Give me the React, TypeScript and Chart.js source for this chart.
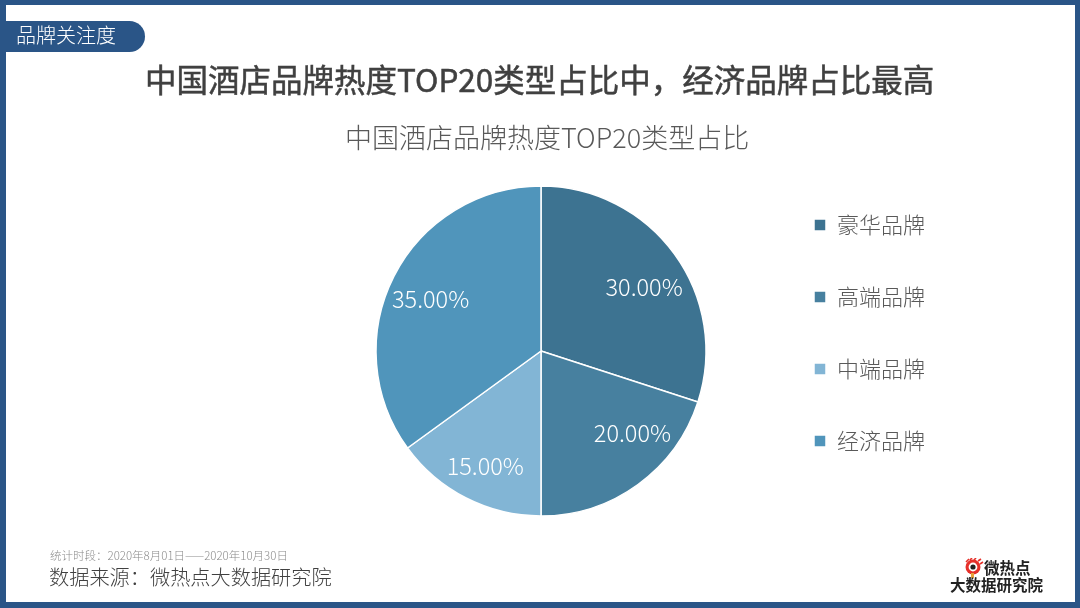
import { useEffect, useRef } from 'react';
import { Chart, registerables } from 'chart.js';

Chart.register(...registerables);

const FONT = '"Noto Sans CJK SC", "Noto Sans", sans-serif';

const categories = ['豪华品牌', '高端品牌', '中端品牌', '经济品牌'];
const shares = [30, 20, 15, 35];
const sliceColors = ['#3d7391', '#47809f', '#82b5d5', '#5095bb'];
// label shift from the slice centre
const labelOffsets = [
  [2, 10],
  [18, -19],
  [1, 4],
  [1, 5],
];

const headline = '中国酒店品牌热度TOP20类型占比中，经济品牌占比最高';
const chartTitle = '中国酒店品牌热度TOP20类型占比';
const tabText = '品牌关注度';
const period = '统计时段：2020年8月01日——2020年10月30日';
const source = '数据来源：微热点大数据研究院';

const sliceLabels = {
  id: 'sliceLabels',
  afterDatasetsDraw(chart: Chart) {
    const { ctx } = chart;
    ctx.save();
    ctx.font = `300 23.5px ${FONT}`;
    ctx.fillStyle = '#ffffff';
    ctx.textAlign = 'center';
    ctx.textBaseline = 'middle';
    chart.getDatasetMeta(0).data.forEach((arc: any, i) => {
      const mid = (arc.startAngle + arc.endAngle) / 2;
      const x = arc.x + Math.cos(mid) * 125 + labelOffsets[i][0];
      const y = arc.y + Math.sin(mid) * 125 + labelOffsets[i][1];
      ctx.fillText(`${shares[i].toFixed(2)}%`, x, y);
    });
    ctx.restore();
  },
};

function PieChart() {
  const canvasRef = useRef<HTMLCanvasElement>(null);

  useEffect(() => {
    if (!canvasRef.current) return;
    const chart = new Chart(canvasRef.current, {
      type: 'pie',
      data: {
        labels: categories,
        datasets: [
          {
            data: shares,
            backgroundColor: sliceColors,
            borderColor: '#ffffff',
            borderWidth: 1.5,
            radius: 165,
          },
        ],
      },
      options: {
        responsive: false,
        animation: false,
        events: [],
        layout: { padding: { left: 318, right: 145, top: 164, bottom: 70 } },
        plugins: {
          tooltip: { enabled: false },
          legend: {
            position: 'right',
            align: 'start',
            labels: {
              boxWidth: 12,
              boxHeight: 12,
              padding: 50,
              color: '#595959',
              font: { family: FONT, size: 22, weight: 300 },
            },
          },
        },
      },
      plugins: [sliceLabels],
    });
    return () => chart.destroy();
  }, []);

  return (
    <canvas
      ref={canvasRef}
      width={1080}
      height={608}
      style={{ position: 'absolute', left: 0, top: 0 }}
    />
  );
}

function Logo() {
  return (
    <div style={{ position: 'absolute', left: 950, top: 558, width: 96, color: '#222', fontWeight: 700 }}>
      <svg width="20" height="20" viewBox="0 0 20 20" style={{ position: 'absolute', left: 14, top: 0 }}>
        <circle cx="9" cy="9" r="7.5" fill="#e6302a" />
        <path d="M2 4 L5 1 M6 2 L8 0 M10 2 L12 0 M14 3 L17 1 M16 6 L19 4" stroke="#e6302a" strokeWidth="1.6" />
        <circle cx="9" cy="9" r="4.4" fill="#fff" />
        <circle cx="9" cy="9" r="2.6" fill="#222" />
        <rect x="7" y="15" width="3" height="5" fill="#e8a23a" />
      </svg>
      <div style={{ position: 'absolute', left: 34, top: 0, fontSize: 15.5, lineHeight: '18px', whiteSpace: 'nowrap' }}>微热点</div>
      <div style={{ position: 'absolute', left: 0, top: 17, fontSize: 15.5, lineHeight: '18px', whiteSpace: 'nowrap' }}>大数据研究院</div>
    </div>
  );
}

export default function App() {
  const text = (extra: React.CSSProperties) => ({
    position: 'absolute' as const,
    whiteSpace: 'nowrap' as const,
    fontFamily: FONT,
    ...extra,
  });

  return (
    <div style={{ position: 'fixed', left: 0, top: 0, width: 1080, height: 608, background: '#fff', overflow: 'hidden', fontFamily: FONT }}>
      <PieChart />
      <div style={{ position: 'absolute', inset: 0, boxSizing: 'border-box', borderStyle: 'solid', borderColor: '#2a5587', borderWidth: '5px 5px 6px 6px', pointerEvents: 'none' }} />
      <div style={{ position: 'absolute', left: 0, top: 21, width: 145, height: 31, background: '#2a5587', borderRadius: '0 16px 16px 0' }} />
      <div style={text({ left: 16, top: 20, fontSize: 20, lineHeight: '30px', color: '#fff', fontWeight: 300 })}>{tabText}</div>
      <div style={text({ left: 145, top: 57, fontSize: 31.5, lineHeight: '42px', color: '#404040', fontWeight: 400, WebkitTextStroke: '0.5px #404040' })}>{headline}</div>
      <div style={text({ left: 345, top: 119, fontSize: 27, lineHeight: '36px', color: '#595959', fontWeight: 300 })}>{chartTitle}</div>
      <div style={text({ left: 50, top: 547, fontSize: 11.5, lineHeight: '16px', color: '#8c8c8c', fontWeight: 300 })}>{period}</div>
      <div style={text({ left: 49, top: 562, fontSize: 20.2, lineHeight: '30px', color: '#404040', fontWeight: 300 })}>{source}</div>
      <Logo />
    </div>
  );
}
